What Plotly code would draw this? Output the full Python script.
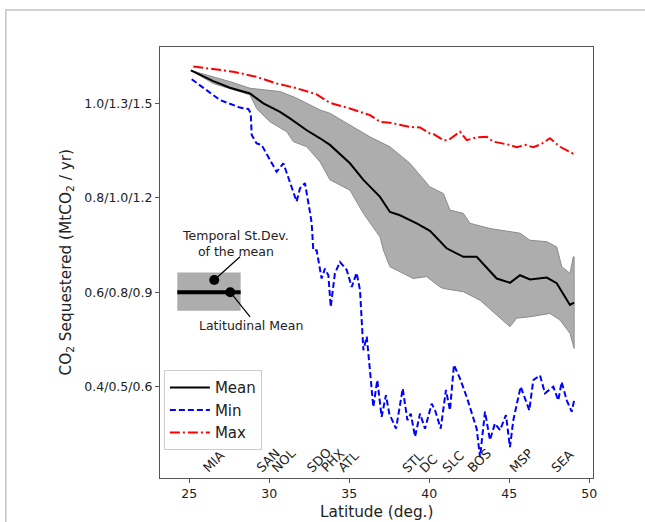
import plotly.graph_objects as go

# ---------------- data ----------------
mean_lat = [25.1, 26.5, 27.54, 28.79, 29.63, 30.67, 31.29, 31.71, 32.34, 33.17, 33.79, 35.04, 35.88,
            36.92, 37.54, 38.17, 39.21, 40.04, 41.08, 42.13, 42.96, 44.21, 45.04, 45.67, 46.29,
            47.34, 47.96, 48.79, 49.05]
mean_val = [1.070, 1.047, 1.033, 1.021, 1.000, 0.982, 0.968, 0.958, 0.943, 0.926, 0.912, 0.873, 0.838,
            0.802, 0.770, 0.763, 0.746, 0.730, 0.693, 0.675, 0.675, 0.629, 0.620, 0.636, 0.627,
            0.631, 0.619, 0.573, 0.578]

upper_lat = [25.1, 25.67, 27.54, 28.79, 29.84, 30.67, 31.71, 32.75, 33.17, 33.79, 35.04, 36.29, 37.54,
             38.79, 40.04, 40.88, 41.29, 42.13, 42.54, 43.79, 45.67, 46.29, 47.34, 47.96, 48.28,
             48.79, 49.0, 49.05]
upper_val = [1.070, 1.064, 1.046, 1.032, 1.028, 1.025, 1.011, 0.993, 0.986, 0.979, 0.954, 0.929, 0.908,
             0.873, 0.823, 0.809, 0.774, 0.767, 0.746, 0.735, 0.725, 0.710, 0.707, 0.696, 0.654,
             0.640, 0.675, 0.675]

lower_lat = [25.1, 26.5, 28.79, 29.21, 30.04, 31.09, 31.5, 32.34, 33.17, 33.79, 35.04, 35.88, 36.92,
             37.13, 37.54, 37.96, 39.0, 39.83, 40.67, 40.88, 42.13, 43.17, 44.21, 45.04, 45.46,
             46.29, 47.54, 48.17, 48.79, 49.05]
lower_val = [1.070, 1.042, 1.018, 0.989, 0.961, 0.940, 0.919, 0.908, 0.876, 0.838, 0.816, 0.767, 0.717,
             0.689, 0.654, 0.647, 0.629, 0.633, 0.611, 0.608, 0.601, 0.583, 0.551, 0.527, 0.545,
             0.548, 0.555, 0.541, 0.513, 0.481]

max_lat = [25.25, 26.5, 27.75, 29.21, 30.46, 31.71, 32.96, 33.79, 35.04, 36.29, 36.92, 37.54, 38.17,
           38.79, 39.42, 40.04, 40.26, 40.88, 41.19, 41.82, 41.92, 42.34, 42.96, 43.59, 44.0,
           45.0, 45.46, 46.0, 46.5, 47.0, 47.54, 48.17, 48.96, 49.05]
max_val = [1.078, 1.073, 1.067, 1.056, 1.042, 1.032, 1.019, 1.001, 0.989, 0.975, 0.961, 0.959, 0.954,
           0.950, 0.949, 0.936, 0.935, 0.922, 0.922, 0.938, 0.940, 0.922, 0.928, 0.929, 0.919,
           0.912, 0.907, 0.912, 0.907, 0.914, 0.926, 0.908, 0.894, 0.899]

min_lat = [25.15, 26.09, 26.92, 28.17, 28.69, 28.84, 28.9, 29.21, 29.52, 29.88, 30.46, 30.88, 31.29,
           31.71, 31.92, 32.23, 32.54, 32.65, 32.75, 32.96, 33.27, 33.48, 33.69, 33.84, 34.1, 34.42,
           34.84, 35.15, 35.46, 35.67, 35.88, 36.09, 36.29, 36.5, 36.75, 37.02, 37.29, 37.5, 37.92,
           38.34, 38.63, 38.84, 39.11, 39.42, 39.73, 40.15, 40.36, 40.71, 41.04, 41.29, 41.54, 41.92,
           42.34, 42.96, 43.17, 43.48, 43.79, 44.1, 44.42, 44.79, 45.04, 45.25, 45.71, 46.25, 46.5,
           46.92, 47.23, 47.75, 48.06, 48.27, 48.59, 48.9, 49.05]
min_val = [1.051, 1.028, 1.007, 0.991, 0.988, 0.979, 0.933, 0.915, 0.912, 0.890, 0.855, 0.873, 0.834,
           0.792, 0.820, 0.831, 0.770, 0.746, 0.689, 0.689, 0.629, 0.650, 0.636, 0.569, 0.640, 0.664,
           0.647, 0.611, 0.641, 0.604, 0.477, 0.506, 0.435, 0.357, 0.414, 0.336, 0.382, 0.343, 0.311,
           0.396, 0.329, 0.343, 0.294, 0.343, 0.311, 0.364, 0.350, 0.311, 0.393, 0.350, 0.446, 0.417,
           0.378, 0.311, 0.251, 0.347, 0.287, 0.322, 0.308, 0.340, 0.272, 0.329, 0.400, 0.350, 0.414,
           0.424, 0.386, 0.400, 0.371, 0.410, 0.371, 0.347, 0.371]

city_names = ["MIA", "SAN", "NOL", "SDO", "PHX", "ATL", "STL", "DC", "SLC", "BOS", "MSP", "SEA"]
city_lat = [25.57, 28.91, 29.85, 32.04, 32.98, 34.0, 38.06, 39.12, 40.56, 42.12, 44.74, 47.33]
city_label_y = 0.209

y_tickvals = [0.4, 0.6, 0.8, 1.0]
y_ticktext = ["0.4/0.5/0.6", "0.6/0.8/0.9", "0.8/1.0/1.2", "1.0/1.3/1.5"]
x_tickvals = [25, 30, 35, 40, 45, 50]

# inset key (schematic)
key_box_x = [24.25, 28.21]
key_box_y = [0.561, 0.642]
key_line_y = 0.6
key_dot_x = [26.56, 27.56]
key_dot_y = [0.626, 0.600]
key_text_x = [27.86, 28.84]
key_text_y = [0.704, 0.529]
key_ptr_end_x = [28.17, 28.8]
key_ptr_end_y = [0.675, 0.548]
key_texts = ["Temporal St.Dev.<br>of the mean", "Latitudinal Mean"]

assert len(min_lat) == len(min_val)
assert len(max_lat) == len(max_val)
assert len(mean_lat) == len(mean_val)
assert len(upper_lat) == len(upper_val)
assert len(lower_lat) == len(lower_val)

FONT = "DejaVu Sans"
TXT = "#222222"

fig = go.Figure()

# std band
fig.add_trace(go.Scatter(
    x=upper_lat + lower_lat[::-1], y=upper_val + lower_val[::-1],
    mode="lines", fill="toself", fillcolor="#adadad",
    line=dict(color="#8c8c8c", width=1), showlegend=False, hoverinfo="skip"))

fig.add_trace(go.Scatter(x=mean_lat, y=mean_val, mode="lines", name="Mean",
                         line=dict(color="black", width=2)))
fig.add_trace(go.Scatter(x=min_lat, y=min_val, mode="lines", name="Min",
                         line=dict(color="#0000ff", width=2, dash="6px,3px")))
fig.add_trace(go.Scatter(x=max_lat, y=max_val, mode="lines", name="Max",
                         line=dict(color="#ff0000", width=2, dash="10px,3px,2px,3px")))

# inset key dots
fig.add_trace(go.Scatter(x=key_dot_x, y=key_dot_y, mode="markers",
                         marker=dict(color="black", size=10), showlegend=False, hoverinfo="skip"))

shapes = [
    dict(type="rect", xref="x", yref="y", x0=key_box_x[0], x1=key_box_x[1],
         y0=key_box_y[0], y1=key_box_y[1], fillcolor="#adadad", line=dict(width=0), layer="below"),
    dict(type="line", xref="x", yref="y", x0=key_box_x[0], x1=key_box_x[1],
         y0=key_line_y, y1=key_line_y, line=dict(color="black", width=4)),
    # figure frame
    dict(type="rect", xref="paper", yref="paper", x0=-0.356, x1=1.4, y0=-0.4, y1=1.0858,
         line=dict(color="#c4c4c4", width=1.5), fillcolor="rgba(0,0,0,0)"),
]
for i in range(2):
    shapes.append(dict(type="line", xref="x", yref="y", x0=key_dot_x[i], y0=key_dot_y[i],
                       x1=key_ptr_end_x[i], y1=key_ptr_end_y[i],
                       line=dict(color="black", width=1.2)))

annotations = []
for i in range(2):
    annotations.append(dict(x=key_text_x[i], y=key_text_y[i], xref="x", yref="y",
                            text=key_texts[i], showarrow=False, xanchor="center", yanchor="middle",
                            font=dict(family=FONT, size=12.5, color=TXT)))
for name, lat in zip(city_names, city_lat):
    annotations.append(dict(x=lat, y=city_label_y, xref="x", yref="y", text=name, showarrow=False,
                            textangle=-45, xanchor="left", yanchor="bottom",
                            font=dict(family=FONT, size=12.8, color=TXT), borderpad=0))
annotations.append(dict(x=0.5, y=-0.079, xref="paper", yref="paper", text="Latitude (deg.)",
                        showarrow=False, xanchor="center", yanchor="middle",
                        font=dict(family=FONT, size=15.3, color=TXT)))
annotations.append(dict(x=-0.217, y=0.5, xref="paper", yref="paper",
                        text="CO<sub>2</sub> Sequestered (MtCO<sub>2</sub> / yr)",
                        showarrow=False, textangle=-90, xanchor="center", yanchor="middle",
                        font=dict(family=FONT, size=15.3, color=TXT)))

fig.update_layout(
    width=645, height=522,
    margin=dict(l=160, r=52, t=47, b=44),
    paper_bgcolor="white", plot_bgcolor="white",
    font=dict(family=FONT, size=12.5, color=TXT),
    shapes=shapes, annotations=annotations,
    legend=dict(x=0.009, y=0.25, xanchor="left", yanchor="top", itemwidth=40,
                bgcolor="rgba(255,255,255,0.85)", bordercolor="#cccccc", borderwidth=1,
                font=dict(family=FONT, size=15, color=TXT), tracegroupgap=0),
    xaxis=dict(range=[23.17, 50.23], tickvals=x_tickvals, showgrid=False, zeroline=False,
               showline=True, mirror=True, linecolor="#555555", linewidth=1.2,
               ticks="outside", ticklen=4, tickcolor="#555555",
               tickfont=dict(family=FONT, size=12.5, color=TXT)),
    yaxis=dict(range=[0.2066, 1.1193], tickvals=y_tickvals, ticktext=y_ticktext, showgrid=False,
               zeroline=False, showline=True, mirror=True, linecolor="#555555", linewidth=1.2,
               ticks="outside", ticklen=4, tickcolor="#555555",
               tickfont=dict(family=FONT, size=12.5, color=TXT)),
)

fig.write_html("out.html", config={"displayModeBar": False},
               post_script="document.body.style.margin='0';document.body.style.overflow='hidden';")
